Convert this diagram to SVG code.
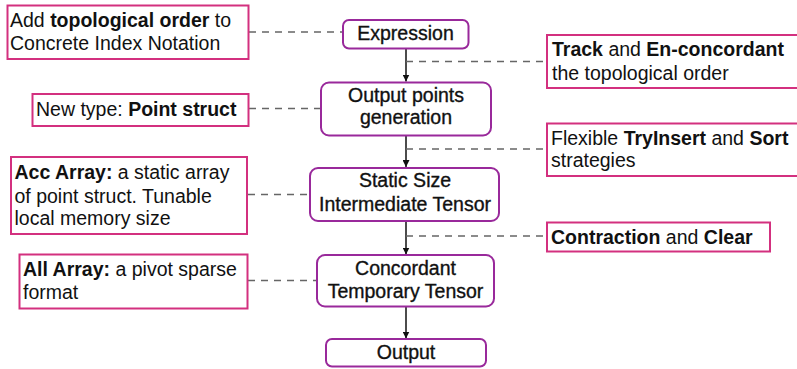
<svg xmlns="http://www.w3.org/2000/svg" width="797" height="369" viewBox="0 0 797 369">
  <style>
    text { font-family: "Liberation Sans", Arial, Helvetica, sans-serif; font-size: 19.5px; fill: #111; }
    .b { font-weight: bold; }
    .note { fill: #fff; stroke: #d3307f; stroke-width: 2; }
    .step { fill: #fff; stroke: #99299b; stroke-width: 2; }
    .step-text { text-anchor: middle; stroke: #111; stroke-width: 0.35; }
    .flow { stroke: #111; stroke-width: 1.5; fill: none; marker-end: url(#arrow); }
    .link { stroke: #666; stroke-width: 1.5; stroke-dasharray: 7 6; fill: none; }
  </style>
  <defs>
    <marker id="arrow" viewBox="0 0 10 10" refX="10" refY="5" markerWidth="7" markerHeight="7" markerUnits="userSpaceOnUse" orient="auto">
      <path d="M0,0 L10,5 L0,10 z" fill="#111"/>
    </marker>
  </defs>

  <!-- connectors -->
  <g id="connectors">
    <line class="flow" x1="406" y1="48.5" x2="406" y2="81.5"/>
    <line class="flow" x1="406" y1="135.5" x2="406" y2="167"/>
    <line class="flow" x1="406" y1="221" x2="406" y2="254.5"/>
    <line class="flow" x1="406" y1="306.5" x2="406" y2="338.5"/>
    <line class="link" x1="249" y1="32" x2="343" y2="32"/>
    <line class="link" x1="249" y1="108.5" x2="321" y2="108.5"/>
    <line class="link" x1="248" y1="194.5" x2="310" y2="194.5"/>
    <line class="link" x1="248" y1="280.5" x2="317" y2="280.5"/>
    <line class="link" x1="406" y1="61.5" x2="547" y2="61.5"/>
    <line class="link" x1="406" y1="149" x2="547" y2="149"/>
    <line class="link" x1="406" y1="236" x2="547" y2="236"/>
  </g>

  <!-- pipeline steps -->
  <g id="expression">
    <rect class="step" x="343" y="20" width="125.5" height="28.5" rx="6"/>
    <text class="step-text" x="405.5" y="40">Expression</text>
  </g>
  <g id="output-points">
    <rect class="step" x="321" y="82.5" width="170" height="53" rx="8"/>
    <text class="step-text" x="406" y="102">Output points</text>
    <text class="step-text" x="406" y="124">generation</text>
  </g>
  <g id="static-tensor">
    <rect class="step" x="310" y="168" width="189" height="53" rx="8"/>
    <text class="step-text" x="405" y="187">Static Size</text>
    <text class="step-text" x="405" y="211">Intermediate Tensor</text>
  </g>
  <g id="concordant-tensor">
    <rect class="step" x="317" y="255" width="177" height="51.5" rx="8"/>
    <text class="step-text" x="405.5" y="275">Concordant</text>
    <text class="step-text" x="405.5" y="298">Temporary Tensor</text>
  </g>
  <g id="output">
    <rect class="step" x="326" y="339" width="160" height="27.5" rx="6"/>
    <text class="step-text" x="406" y="358.5">Output</text>
  </g>

  <!-- notes on the left -->
  <g id="note-topological">
    <rect class="note" x="7.5" y="5.5" width="241" height="53.5"/>
    <text x="10" y="27">Add <tspan class="b">topological order</tspan> to</text>
    <text x="10" y="50">Concrete Index Notation</text>
  </g>
  <g id="note-point-struct">
    <rect class="note" x="32.5" y="94" width="216" height="32"/>
    <text x="36" y="115.5">New type: <tspan class="b">Point struct</tspan></text>
  </g>
  <g id="note-acc-array">
    <rect class="note" x="11" y="157" width="236" height="77"/>
    <text x="14.5" y="178.5"><tspan class="b">Acc Array:</tspan> a static array</text>
    <text x="14.5" y="202.5">of point struct. Tunable</text>
    <text x="14.5" y="225">local memory size</text>
  </g>
  <g id="note-all-array">
    <rect class="note" x="19.5" y="254.5" width="228" height="54"/>
    <text x="23" y="276"><tspan class="b">All Array:</tspan> a pivot sparse</text>
    <text x="23" y="299">format</text>
  </g>

  <!-- notes on the right -->
  <g id="note-track">
    <rect class="note" x="547" y="35" width="262" height="53"/>
    <text x="552" y="56"><tspan class="b">Track</tspan> and <tspan class="b">En-concordant</tspan></text>
    <text x="552" y="80">the topological order</text>
  </g>
  <g id="note-strategies">
    <rect class="note" x="547" y="123.5" width="262" height="52.5"/>
    <text x="551" y="145">Flexible <tspan class="b">TryInsert</tspan> and <tspan class="b">Sort</tspan></text>
    <text x="551" y="167">strategies</text>
  </g>
  <g id="note-contraction">
    <rect class="note" x="547" y="222.5" width="223" height="29"/>
    <text x="551" y="243.5"><tspan class="b">Contraction</tspan> and <tspan class="b">Clear</tspan></text>
  </g>
</svg>
